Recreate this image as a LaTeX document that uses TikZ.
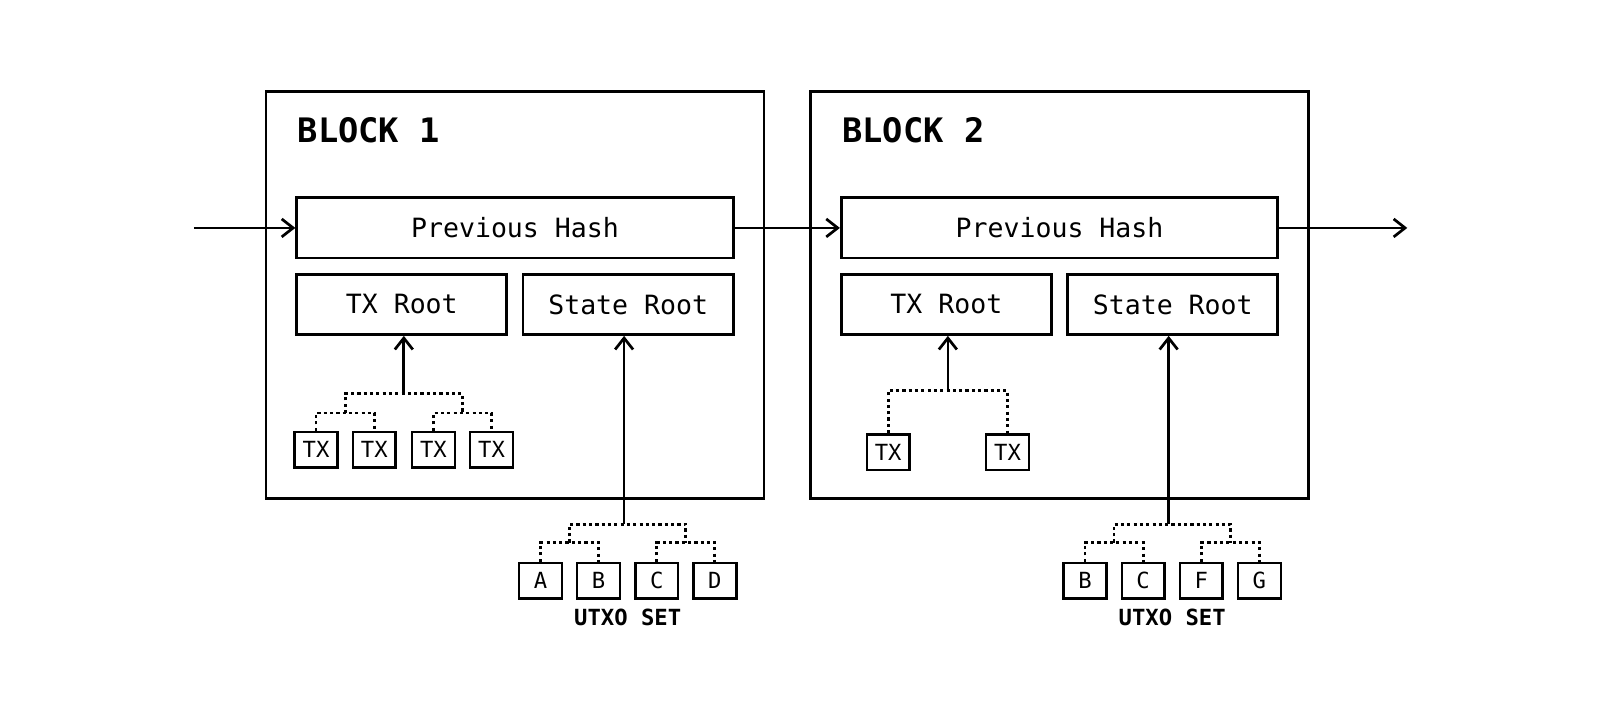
\documentclass[tikz,border=0pt]{standalone}
\usepackage{fontspec}
\setmonofont{DejaVu Sans Mono}
\usepackage{tikz}
\usetikzlibrary{arrows.meta}
\usetikzlibrary{positioning,calc}
\tikzset{
    blockbox/.style={
        draw,
        line width=1.9pt,
        minimum width=12.2cm,
        minimum height=9.975cm
    },
    hashbox/.style={
        draw,
        line width=1.9pt,
        minimum width=10.7cm,
        minimum height=1.475cm,
        font=\ttfamily\fontsize{18.5}{20}\selectfont
    },
    rootbox/.style={
        hashbox,
        minimum width=5.15cm
    },
    leafbox/.style={
        draw,
        line width=1.7pt,
        inner sep=0pt,
        minimum width=1.05cm,
        minimum height=0.875cm,
        font=\ttfamily\fontsize{15.5}{17}\selectfont
    },
    blocktitle/.style={
        anchor=base west,
        font=\ttfamily\bfseries\fontsize{23.5}{25}\selectfont
    },
    setlabel/.style={
        anchor=base,
        font=\ttfamily\bfseries\fontsize{15.5}{17}\selectfont
    },
    treeline/.style={
        line width=1.9pt,
        dash pattern=on 2.2pt off 2.2pt
    },
    link/.style={
        line width=1.9pt,
        -{Straight Barb[length=2.8mm, width=4.4mm, line width=1.9pt]}
    }
}

\begin{document}
\begin{tikzpicture}[x=0.025cm, y=-0.025cm]
    \useasboundingbox (0,0) rectangle (1569,706);

    % block 1
    \node[blockbox] (blk1) at (505,289.5) {};
    \node[blocktitle] (title1) at (287,140) {BLOCK 1};
    \node[hashbox] (ph1) at (505,223.5) {Previous Hash};
    \node[rootbox] (txr1) at (394,298.5) {TX Root};
    \node[rootbox] (sr1) at (616,298.5) {State Root};

    \node[leafbox] (tx1) at (310,441) {TX};
    \node[leafbox] (tx2) at (367,441) {TX};
    \node[leafbox] (tx3) at (425,441) {TX};
    \node[leafbox] (tx4) at (482,441) {TX};

    \node[leafbox] (ua) at (530,569.5) {A};
    \node[leafbox] (ub) at (587,569.5) {B};
    \node[leafbox] (uc) at (644,569.5) {C};
    \node[leafbox] (ud) at (701,569.5) {D};
    \node[setlabel] (set1) at (615.5,613) {UTXO SET};

    % block 2
    \node[blockbox] (blk2) at (1039,289.5) {};
    \node[blocktitle] (title2) at (821,140) {BLOCK 2};
    \node[hashbox] (ph2) at (1039,223.5) {Previous Hash};
    \node[rootbox] (txr2) at (928,298.5) {TX Root};
    \node[rootbox] (sr2) at (1150,298.5) {State Root};

    \node[leafbox] (tx5) at (871,443.5) {TX};
    \node[leafbox] (tx6) at (988,443.5) {TX};

    \node[leafbox] (vb) at (1064,569.5) {B};
    \node[leafbox] (vc) at (1121,569.5) {C};
    \node[leafbox] (vf) at (1178,569.5) {F};
    \node[leafbox] (vg) at (1235,569.5) {G};
    \node[setlabel] (set2) at (1149.5,613) {UTXO SET};

    % tree junctions
    \coordinate (ja) at (338.5,405);
    \coordinate (jb) at (453.5,405);
    \coordinate (jt) at (396,386);
    \coordinate (ka) at (558.5,532);
    \coordinate (kb) at (672.5,532);
    \coordinate (kt) at (612,514);
    \coordinate (la) at (929.5,383);
    \coordinate (ma) at (1092.5,532);
    \coordinate (mb) at (1206.5,532);
    \coordinate (mt) at (1146,514);

    \draw[treeline] (tx1.north) |- (ja) -| (tx2.north);
    \draw[treeline] (tx3.north) |- (jb) -| (tx4.north);
    \draw[treeline] (ja) |- (jt) -| (jb);
    \draw[treeline] (ua.north) |- (ka) -| (ub.north);
    \draw[treeline] (uc.north) |- (kb) -| (ud.north);
    \draw[treeline] (ka) |- (kt) -| (kb);
    \draw[treeline] (tx5.north) |- (la) -| (tx6.north);
    \draw[treeline] (vb.north) |- (ma) -| (vc.north);
    \draw[treeline] (vf.north) |- (mb) -| (vg.north);
    \draw[treeline] (ma) |- (mt) -| (mb);

    \draw[link] (jt) -- (jt |- txr1.south);
    \draw[link] (kt) -- (kt |- sr1.south);
    \draw[link] (la) -- (la |- txr2.south);
    \draw[link] (mt) -- (mt |- sr2.south);

    % chain
    \coordinate (in) at (190,223.5);
    \coordinate (out) at (1380,223.5);
    \draw[link] (in) -- (ph1);
    \draw[link] (ph1) -- (ph2);
    \draw[link] (ph2) -- (out);
\end{tikzpicture}
\end{document}
